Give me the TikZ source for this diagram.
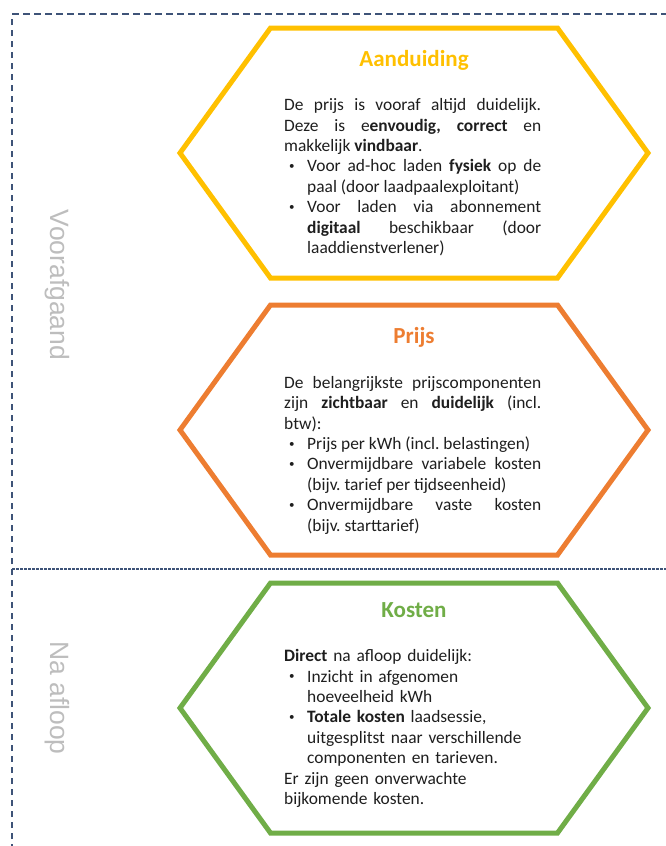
\documentclass[tikz,border=0pt]{standalone}
\usepackage{fontspec}
\setmainfont{Carlito}
\newfontfamily\sidefont{Liberation Sans}
\definecolor{hexgold}{HTML}{FFC000}
\definecolor{hexorange}{HTML}{ED7D31}
\definecolor{hexgreen}{HTML}{70AD47}
\definecolor{framecol}{HTML}{3E5378}
\definecolor{sidegray}{HTML}{BDBDBD}
\definecolor{bodycol}{HTML}{1E1E1E}
\newcommand\hexbullet{\par\hangindent=23pt\hangafter=1\noindent\makebox[23pt][l]{\hspace{5pt}\raisebox{2.2pt}{\fontsize{11}{11}\selectfont\textbullet}}}
\newcommand\bodystart{\frenchspacing\hyphenpenalty=10000 \exhyphenpenalty=10000 \noindent\rule{0pt}{15pt}}
\tikzset{
  hexline/.style={line width=5pt, line join=miter},
  frameline/.style={draw=framecol, line width=2pt, dash pattern=on 6.5pt off 4.5pt},
  divline/.style={draw=framecol, line width=1.2pt, dash pattern=on 2.5pt off 1.5pt},
  hextitle/.style={anchor=base, inner sep=0pt, font=\fontsize{23}{27}\selectfont\bfseries},
  bodytext/.style={anchor=north west, inner sep=0pt, text width=257pt, text=bodycol,
    font=\fontsize{17.4}{20.4}\selectfont},
  sidelabel/.style={inner sep=0pt, text=sidegray, font=\sidefont\fontsize{26.5}{30}\selectfont, rotate=-90}
}
\begin{document}
\begin{tikzpicture}[x=1pt,y=-1pt]
\useasboundingbox (0,0) rectangle (666,846);
% frame
\coordinate (fbl) at (12,850);
\coordinate (ftl) at (12,14);
\coordinate (ftr) at (670,14);
\draw[frameline] (fbl) -- (ftl) -- (ftr);
\coordinate (dl) at (12,569);
\coordinate (dr) at (670,569);
\draw[divline] (dl) -- (dr);
% hexagons
\draw[hexline, hexgold] (270.5,28) -- (557.5,28) -- (648,153) -- (557.5,278) -- (270.5,278) -- (180,153) -- cycle;
\draw[hexline, hexorange] (270.5,305) -- (557.5,305) -- (648,430) -- (557.5,555) -- (270.5,555) -- (180,430) -- cycle;
\draw[hexline, hexgreen] (270.5,583) -- (557.5,583) -- (648,708) -- (557.5,833) -- (270.5,833) -- (180,708) -- cycle;
% titles
\node[hextitle, text=hexgold] (t1) at (414,66) {Aanduiding};
\node[hextitle, text=hexorange] (t2) at (414,343) {Prijs};
\node[hextitle, text=hexgreen] (t3) at (414,617) {Kosten};
% bodies
\node[bodytext, align=justify] (b1) at (284,95.5) {\bodystart De prijs is vooraf altijd duidelijk.\linebreak
Deze is e\textbf{envoudig, correct} en\linebreak
makkelijk \textbf{vindbaar}.
\hexbullet Voor ad-hoc laden \textbf{fysiek} op de\linebreak paal (door laadpaalexploitant)
\hexbullet Voor laden via abonnement\linebreak \textbf{digitaal} beschikbaar (door\linebreak laaddienstverlener)\par};
\node[bodytext, align=justify] (b2) at (284,373) {\bodystart De belangrijkste prijscomponenten\linebreak
zijn \textbf{zichtbaar} en \textbf{duidelijk} (incl.\linebreak btw):
\hexbullet Prijs per kWh (incl. belastingen)
\hexbullet Onvermijdbare variabele kosten\linebreak (bijv. tarief per tijdseenheid)
\hexbullet Onvermijdbare vaste kosten\linebreak (bijv. starttarief)\par};
\node[bodytext, align=left] (b3) at (284,646.5) {\bodystart\textbf{Direct} na afloop duidelijk:
\hexbullet Inzicht in afgenomen\newline hoeveelheid kWh
\hexbullet \textbf{Totale kosten} laadsessie,\newline uitgesplitst naar verschillende\newline componenten en tarieven.
\par\noindent Er zijn geen onverwachte\newline bijkomende kosten.\par};
% side labels
\node[sidelabel] (s1) at (57.5,285) {Voorafgaand};
\node[sidelabel] (s2) at (57.5,698) {Na afloop};
\end{tikzpicture}
\end{document}
